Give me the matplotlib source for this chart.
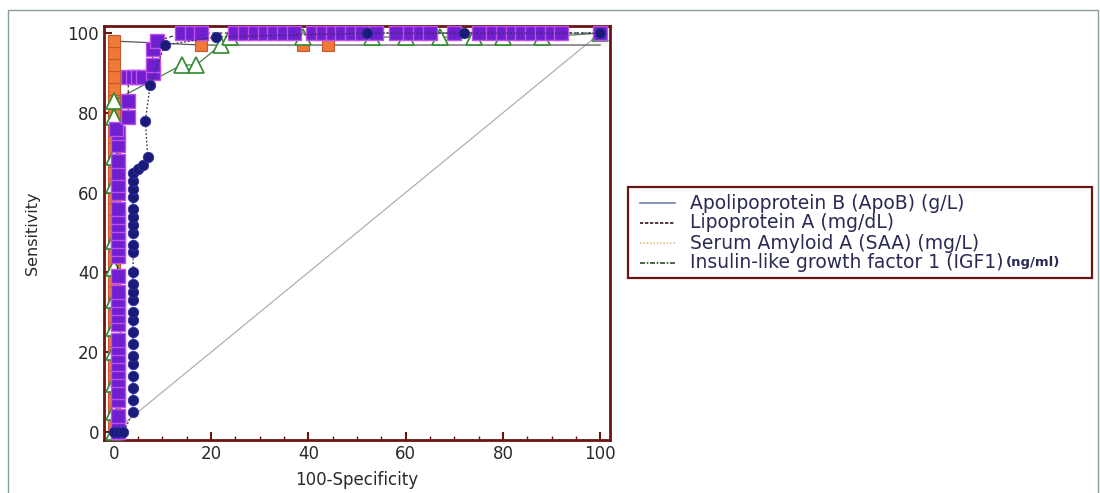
import matplotlib
matplotlib.use("Agg")
import matplotlib.pyplot as plt
from matplotlib.lines import Line2D
from matplotlib.patches import Rectangle
from matplotlib.ticker import MultipleLocator

plt.rcParams['font.family'] = ['DejaVu Sans']

# ROC points (x = 100-Specificity, y = Sensitivity)
saa_x = [0] * 33 + [18, 39, 44, 100]
saa_y = [2, 5, 8, 11, 14, 17, 20, 23, 26, 29, 32, 35, 38, 41, 44, 47, 50, 53,
         56, 59, 62, 65, 68, 71, 74, 77, 80, 83, 86, 89, 92, 95, 98,
         97, 97, 97, 97]

igf_x = [0, 0, 0, 0, 0, 0, 0, 0, 0, 0, 0, 0, 14, 17, 22, 24, 39, 53, 60, 67,
         74, 80, 88, 100]
igf_y = [0, 5, 12, 20, 26, 33, 41, 48, 62, 69, 79, 83, 92, 92, 97, 99, 99, 99,
         99, 99, 99, 99, 99, 100]

lpa_x = [0.8] * 30 + [0.5, 3, 3, 3, 4, 5, 6, 8, 8, 8, 9,
                      14, 16, 18, 25, 27, 29, 31, 33, 35, 37, 41, 43, 45, 47,
                      49, 51, 54, 58, 61, 63, 65, 70, 75, 78, 80, 82, 84, 86,
                      88, 90, 92, 100]
lpa_y = [0, 2, 4, 8, 10, 13, 15, 17, 19, 21, 23, 27, 29, 31, 33, 35, 39, 44,
         46, 48, 50, 52, 54, 56, 60, 62, 65, 68, 72, 75,
         76, 79, 83, 89, 89, 89, 89, 90, 92, 96, 98] + [100] * 32

apob_x = [0, 1, 2] + [4] * 24 + [5, 6, 7, 6.5, 7.5, 10.5, 21, 52, 72, 100]
apob_y = [0, 0, 0, 5, 8, 11, 14, 17, 19, 22, 25, 28, 30, 33, 35, 37, 40, 45,
          47, 50, 52, 54, 56, 59, 61, 63, 65,
          66, 67, 69, 78, 87, 97, 99, 100, 100, 100]

legend_labels = ["Apolipoprotein B (ApoB) (g/L)",
                 "Lipoprotein A (mg/dL)",
                 "Serum Amyloid A (SAA) (mg/L)",
                 "Insulin-like growth factor 1 (IGF1)"]

frame_col = "#6b1414"
text_col = "#2a2a55"

fig = plt.figure(figsize=(11, 4.93), dpi=100)
ax = fig.add_axes([0.0945, 0.1075, 0.46, 0.84])

# reference diagonal
ax.plot([0, 100], [0, 100], color="#b0b0b0", lw=0.9, zorder=1)

ax.plot(saa_x, saa_y, color="#555555", lw=0.9, marker="s", ms=8.5,
        mfc="#f07838", mec="#c05a28", mew=0.8, zorder=2,
        markevery=slice(0, len(saa_x) - 1))
ax.plot(igf_x, igf_y, color="#4a7a4a", lw=0.9, marker="^", ms=11,
        mfc="white", mec="#2f8a2f", mew=1.2, zorder=3)
ax.plot(lpa_x, lpa_y, color="#333333", lw=0.9, ls=(0, (3, 2)), marker="s",
        ms=9.5, mfc="#6f1fd0", mec="#c050e8", mew=1.0, zorder=4)
ax.plot(apob_x, apob_y, color="#333355", lw=0.9, ls=(0, (1.5, 1.5)),
        marker="o", ms=7.5, mfc="#1a1a78", mec="#3030a0", mew=0.6, zorder=5)

ax.set_xlim(-2, 102)
ax.set_ylim(-2, 101.8)
ax.xaxis.set_major_locator(MultipleLocator(20))
ax.xaxis.set_minor_locator(MultipleLocator(5))
ax.yaxis.set_major_locator(MultipleLocator(20))
ax.yaxis.set_minor_locator(MultipleLocator(5))
ax.tick_params(which="both", direction="in", color=frame_col, labelsize=12,
               labelcolor="#2a2a2a")
ax.tick_params(which="major", length=6, width=1.5)
ax.tick_params(which="minor", length=3, width=1)
ax.tick_params(axis="y", which="minor", length=0)
for sp in ax.spines.values():
    sp.set_color(frame_col)
    sp.set_linewidth(2)
ax.set_xlabel("100-Specificity", fontsize=12, color="#2a2a2a", labelpad=6)
ax.set_ylabel("Sensitivity", fontsize=11.5, color="#2a2a2a", labelpad=20)

# legend box drawn by hand so the small unit can sit next to the last label
fig.patches.append(Rectangle((0.571, 0.436), 0.422, 0.185,
                             transform=fig.transFigure, fill=False,
                             edgecolor=frame_col, lw=1.6))
styles = [dict(color="#6f82ad", ls="-"),
          dict(color="#3a1414", ls=(0, (2, 1))),
          dict(color="#dcbf8e", ls=(0, (1, 1))),
          dict(color="#2c4a2c", ls=(0, (3, 1, 1, 1)))]
rows = [0.588, 0.548, 0.507, 0.467]
for lab, st, yy in zip(legend_labels, styles, rows):
    fig.lines.append(Line2D([0.582, 0.614], [yy, yy], transform=fig.transFigure,
                            lw=1.2, **st))
    t = fig.text(0.627, yy, lab, fontsize=13.5, color=text_col, va="center")
t_last = t
fig.canvas.draw()
bb = t_last.get_window_extent().transformed(fig.transFigure.inverted())
fig.text(bb.x1 + 0.002, rows[-1], "(ng/ml)", fontsize=9.5, fontweight="bold",
         color=text_col, va="center")

# outer frame of the figure panel
fig.patches.append(Rectangle((0.007, -0.01), 0.991, 0.99,
                             transform=fig.transFigure, fill=False,
                             edgecolor="#8a9e9e", lw=1.0))

fig.savefig("out.png", dpi=100)
